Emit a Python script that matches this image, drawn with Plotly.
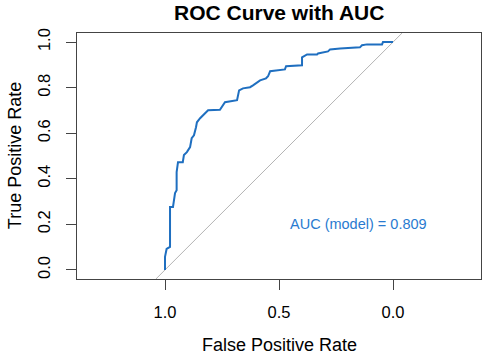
import plotly.graph_objects as go

# ROC curve points (specificity, sensitivity)
specificity = [1.0, 1.0, 0.993, 0.978, 0.978, 0.965, 0.956, 0.949, 0.949, 0.943,
               0.922, 0.917, 0.904, 0.890, 0.883, 0.873, 0.864, 0.860, 0.846, 0.833,
               0.820, 0.811, 0.759, 0.746, 0.737, 0.684, 0.675, 0.658, 0.627, 0.614,
               0.596, 0.583, 0.557, 0.548, 0.539, 0.474, 0.469, 0.399, 0.399, 0.377,
               0.333, 0.329, 0.285, 0.276, 0.232, 0.145, 0.136, 0.114, 0.048, 0.044, 0.0]
sensitivity = [0.0, 0.057, 0.092, 0.101, 0.276, 0.276, 0.337, 0.350, 0.429, 0.473,
               0.473, 0.504, 0.517, 0.539, 0.578, 0.591, 0.626, 0.648, 0.666, 0.679,
               0.696, 0.701, 0.703, 0.723, 0.736, 0.745, 0.788, 0.797, 0.802, 0.810,
               0.823, 0.832, 0.841, 0.850, 0.872, 0.880, 0.894, 0.898, 0.933, 0.946,
               0.946, 0.950, 0.959, 0.968, 0.972, 0.977, 0.986, 0.990, 0.990, 1.0, 1.0]
auc_value = 0.809
x_ticks = [1.0, 0.5, 0.0]
x_tick_labels = ["1.0", "0.5", "0.0"]
y_ticks = [0.0, 0.2, 0.4, 0.6, 0.8, 1.0]
y_tick_labels = ["0.0", "0.2", "0.4", "0.6", "0.8", "1.0"]
diag_x = [1.04, -0.04]
diag_y = [-0.04, 1.04]

FONT = "Arial, Liberation Sans, sans-serif"
BLUE = "#1f6fc0"

fig = go.Figure()
fig.add_trace(go.Scatter(x=diag_x, y=diag_y, mode="lines",
                         line=dict(color="#b4b4b4", width=1), hoverinfo="skip"))
fig.add_trace(go.Scatter(x=specificity, y=sensitivity, mode="lines",
                         line=dict(color=BLUE, width=2)))

fig.add_annotation(x=0.15, y=0.2, xref="x", yref="y", xanchor="center", yanchor="middle",
                   text=f"AUC (model) = {auc_value:.3f}", showarrow=False,
                   font=dict(family=FONT, size=14.5, color="#2a7bd0"))
fig.add_annotation(x=0.5, y=1, xref="paper", yref="paper", yshift=21,
                   xanchor="center", yanchor="middle",
                   text="<b>ROC Curve with AUC</b>", showarrow=False,
                   font=dict(family=FONT, size=21, color="black"))
fig.add_annotation(x=0.5, y=-0.268, xref="paper", yref="paper",
                   xanchor="center", yanchor="middle",
                   text="False Positive Rate", showarrow=False,
                   font=dict(family=FONT, size=18, color="black"))
fig.add_annotation(x=-0.153, y=0.5, xref="paper", yref="paper",
                   xanchor="center", yanchor="middle",
                   text="True Positive Rate", showarrow=False, textangle=-90,
                   font=dict(family=FONT, size=18, color="black"))

axis_common = dict(showgrid=False, zeroline=False, showline=True, mirror=True,
                   automargin=False,
                   linecolor="#444444", linewidth=1, ticks="outside", ticklen=10,
                   tickcolor="#444444", tickfont=dict(family=FONT, size=16.5, color="black"))
fig.update_xaxes(range=[1.386, -0.386], tickvals=x_ticks, ticktext=x_tick_labels,
                 ticklabelstandoff=8, **axis_common)
fig.update_yaxes(range=[-0.04, 1.04], tickvals=y_ticks, ticktext=y_tick_labels,
                 tickangle=-90, ticklabelstandoff=9, **axis_common)

fig.update_layout(width=486, height=356, showlegend=False,
                  margin=dict(l=77, r=5, t=33, b=77, autoexpand=False),
                  paper_bgcolor="white", plot_bgcolor="white")
fig.write_html("out.html", config={"displayModeBar": False},
               post_script="document.body.style.margin='0';document.body.style.overflow='hidden';")
